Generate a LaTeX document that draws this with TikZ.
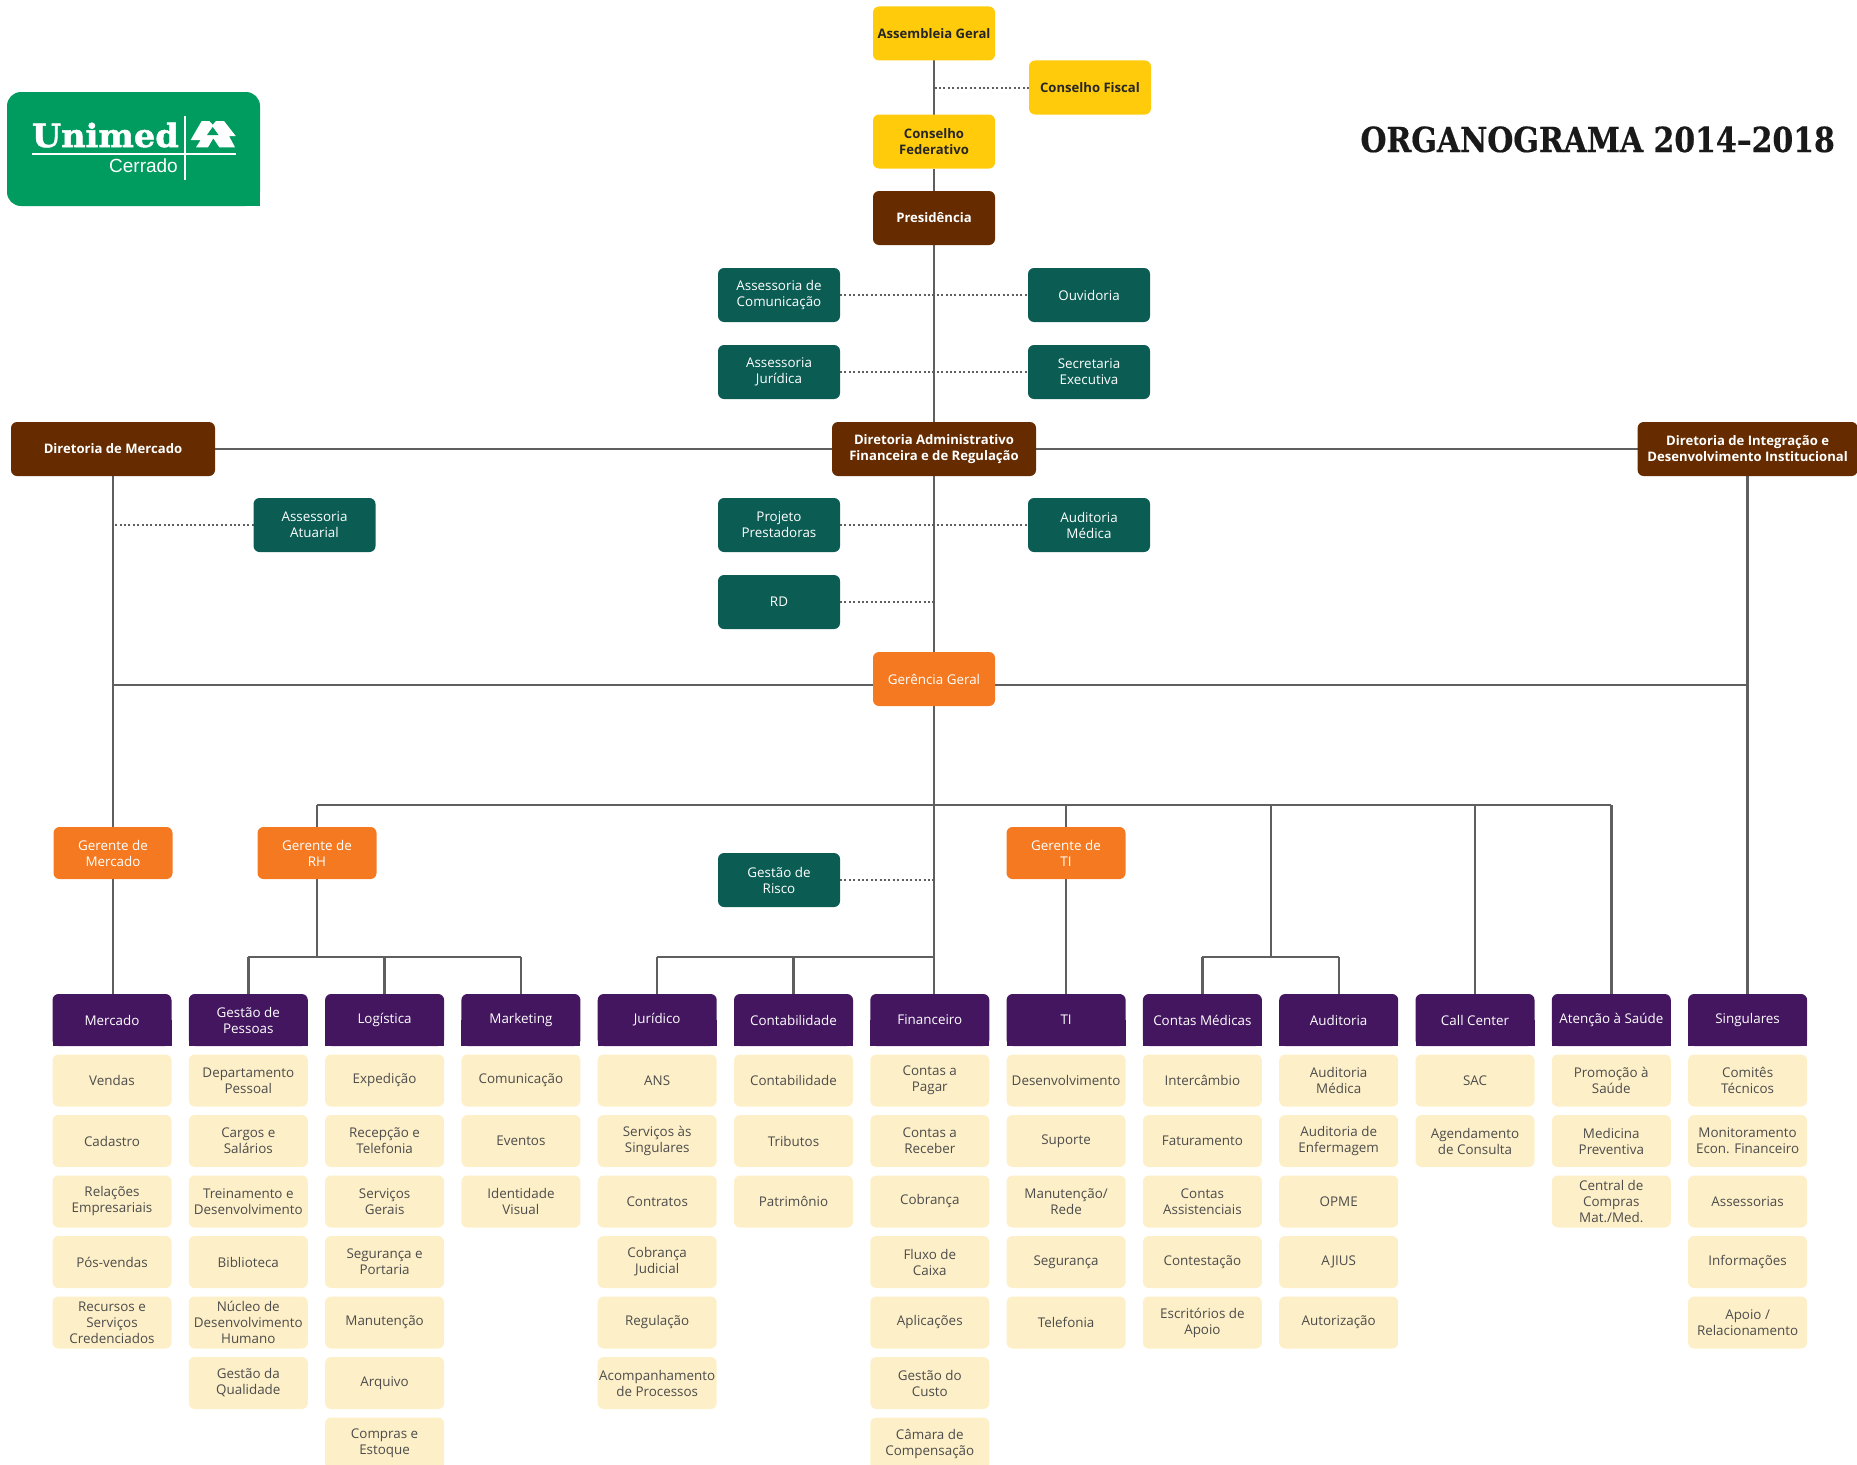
\documentclass[tikz,border=0pt]{standalone}
\usepackage{fontspec}
\usepackage{xcolor}
\setmainfont{Open Sans}
\newfontfamily\titlefont[FakeStretch=0.866,FakeBold=0.5]{DejaVu Serif Bold}
\newfontfamily\logofont[FakeStretch=1.05,FakeBold=1.6]{DejaVu Serif Bold}
\newfontfamily\cerradofont{Liberation Sans}
\usetikzlibrary{backgrounds}
\definecolor{amar}{HTML}{FFCB0B}
\definecolor{marrom}{HTML}{662C00}
\definecolor{verde}{HTML}{0B5D54}
\definecolor{laranja}{HTML}{F47920}
\definecolor{roxo}{HTML}{43165F}
\definecolor{creme}{HTML}{FDEFC7}
\definecolor{linha}{HTML}{5F5F5F}
\definecolor{logoverde}{HTML}{009B5E}
\tikzset{
	caixa/.style={align=center,inner sep=0pt,outer sep=0pt,rounded corners=6pt,font=\fontsize{13.4}{16}\selectfont},
	amarbox/.style={caixa,fill=amar,text=black!85,minimum width=122pt,minimum height=54pt,font=\fontsize{13.1}{16}\selectfont\bfseries},
	dirbox/.style={caixa,fill=marrom,text=white,minimum width=204pt,minimum height=54pt,font=\fontsize{13.1}{16}\selectfont\bfseries},
	verdebox/.style={caixa,fill=verde,text=white,minimum width=122pt,minimum height=54pt},
	larbox/.style={caixa,fill=laranja,text=white,minimum width=119pt,minimum height=52pt},
	hdrbox/.style={caixa,fill=roxo,text=white,minimum width=119pt,minimum height=52pt},
	itembox/.style={caixa,fill=creme,text=black!70,minimum width=119pt,minimum height=52pt},
	liga/.style={draw=linha,line width=2.4pt},
	pontos/.style={draw=linha,line width=2pt,dash pattern=on 2pt off 2.4pt}
}
\begin{document}
\begin{tikzpicture}[x=1pt,y=-1pt]
		\useasboundingbox (0,0) rectangle (1857,1464);
		\node[amarbox] (AG) at (934,33.5) {Assembleia Geral};
		\node[amarbox] (CF) at (1090,87.5) {Conselho Fiscal};
		\node[amarbox] (CFed) at (934,141.5) {Conselho\\Federativo};
		\node[dirbox,minimum width=122pt] (Pres) at (934,218) {Presidência};
		\node[verdebox] (ACom) at (779,295) {Assessoria de\\Comunicação};
		\node[verdebox] (Ouv) at (1089,295) {Ouvidoria};
		\node[verdebox] (AJur) at (779,372) {Assessoria\\Jurídica};
		\node[verdebox] (Sec) at (1089,372) {Secretaria\\Executiva};
		\node[dirbox] (DM) at (113,449) {Diretoria de Mercado};
		\node[dirbox] (DA) at (934,449) {Diretoria Administrativo\\Financeira e de Regulação};
		\node[dirbox,minimum width=220pt] (DI) at (1747.6,449) {Diretoria de Integração e\\Desenvolvimento Institucional};
		\node[verdebox] (AAt) at (314.5,525) {Assessoria\\Atuarial};
		\node[verdebox] (PP) at (779,525) {Projeto\\Prestadoras};
		\node[verdebox] (AM) at (1089,525) {Auditoria\\Médica};
		\node[verdebox] (RD) at (779,602) {RD};
		\node[larbox,minimum width=122pt,minimum height=54pt] (GG) at (934,679) {Gerência Geral};
		\node[larbox] (GM) at (113,853) {Gerente de\\Mercado};
		\node[larbox] (GR) at (317,853) {Gerente de\\RH};
		\node[larbox] (GT) at (1066,853) {Gerente de\\TI};
		\node[verdebox] (GRi) at (779,880) {Gestão de\\Risco};
		%
		\node[hdrbox] (H1) at (112,1020) {Mercado};
		\node[hdrbox] (H2) at (248.3,1020) {Gestão de\\Pessoas};
		\node[hdrbox] (H3) at (384.6,1020) {Logística};
		\node[hdrbox] (H4) at (520.9,1020) {Marketing};
		\node[hdrbox] (H5) at (657.2,1020) {Jurídico};
		\node[hdrbox] (H6) at (793.5,1020) {Contabilidade};
		\node[hdrbox] (H7) at (929.8,1020) {Financeiro};
		\node[hdrbox] (H8) at (1066.1,1020) {TI};
		\node[hdrbox] (H9) at (1202.4,1020) {Contas Médicas};
		\node[hdrbox] (H10) at (1338.7,1020) {Auditoria};
		\node[hdrbox] (H11) at (1475,1020) {Call Center};
		\node[hdrbox] (H12) at (1611.3,1020) {Atenção à Saúde};
		\node[hdrbox] (H13) at (1747.6,1020) {Singulares};
		%
		\node[itembox] (M1) at (112,1080.5) {Vendas};
		\node[itembox] (M2) at (112,1141) {Cadastro};
		\node[itembox] (M3) at (112,1201.5) {Relações\\Empresariais};
		\node[itembox] (M4) at (112,1262) {Pós-vendas};
		\node[itembox] (M5) at (112,1322.5) {Recursos e\\Serviços\\Credenciados};
		%
		\node[itembox] (P1) at (248.3,1080.5) {Departamento\\Pessoal};
		\node[itembox] (P2) at (248.3,1141) {Cargos e\\Salários};
		\node[itembox] (P3) at (248.3,1201.5) {Treinamento e\\Desenvolvimento};
		\node[itembox] (P4) at (248.3,1262) {Biblioteca};
		\node[itembox] (P5) at (248.3,1322.5) {Núcleo de\\Desenvolvimento\\Humano};
		\node[itembox] (P6) at (248.3,1383) {Gestão da\\Qualidade};
		%
		\node[itembox] (L1) at (384.6,1080.5) {Expedição};
		\node[itembox] (L2) at (384.6,1141) {Recepção e\\Telefonia};
		\node[itembox] (L3) at (384.6,1201.5) {Serviços\\Gerais};
		\node[itembox] (L4) at (384.6,1262) {Segurança e\\Portaria};
		\node[itembox] (L5) at (384.6,1322.5) {Manutenção};
		\node[itembox] (L6) at (384.6,1383) {Arquivo};
		\node[itembox] (L7) at (384.6,1443.5) {Compras e\\Estoque};
		%
		\node[itembox] (K1) at (520.9,1080.5) {Comunicação};
		\node[itembox] (K2) at (520.9,1141) {Eventos};
		\node[itembox] (K3) at (520.9,1201.5) {Identidade\\Visual};
		%
		\node[itembox] (J1) at (657.2,1080.5) {ANS};
		\node[itembox] (J2) at (657.2,1141) {Serviços às\\Singulares};
		\node[itembox] (J3) at (657.2,1201.5) {Contratos};
		\node[itembox] (J4) at (657.2,1262) {Cobrança\\Judicial};
		\node[itembox] (J5) at (657.2,1322.5) {Regulação};
		\node[itembox] (J6) at (657.2,1383) {Acompanhamento\\de Processos};
		%
		\node[itembox] (C1) at (793.5,1080.5) {Contabilidade};
		\node[itembox] (C2) at (793.5,1141) {Tributos};
		\node[itembox] (C3) at (793.5,1201.5) {Patrimônio};
		%
		\node[itembox] (F1) at (929.8,1080.5) {Contas a\\Pagar};
		\node[itembox] (F2) at (929.8,1141) {Contas a\\Receber};
		\node[itembox] (F3) at (929.8,1201.5) {Cobrança};
		\node[itembox] (F4) at (929.8,1262) {Fluxo de\\Caixa};
		\node[itembox] (F5) at (929.8,1322.5) {Aplicações};
		\node[itembox] (F6) at (929.8,1383) {Gestão do\\Custo};
		\node[itembox] (F7) at (929.8,1443.5) {Câmara de\\Compensação};
		%
		\node[itembox] (T1) at (1066.1,1080.5) {Desenvolvimento};
		\node[itembox] (T2) at (1066.1,1141) {Suporte};
		\node[itembox] (T3) at (1066.1,1201.5) {Manutenção/\\Rede};
		\node[itembox] (T4) at (1066.1,1262) {Segurança};
		\node[itembox] (T5) at (1066.1,1322.5) {Telefonia};
		%
		\node[itembox] (O1) at (1202.4,1080.5) {Intercâmbio};
		\node[itembox] (O2) at (1202.4,1141) {Faturamento};
		\node[itembox] (O3) at (1202.4,1201.5) {Contas\\Assistenciais};
		\node[itembox] (O4) at (1202.4,1262) {Contestação};
		\node[itembox] (O5) at (1202.4,1322.5) {Escritórios de\\Apoio};
		%
		\node[itembox] (U1) at (1338.7,1080.5) {Auditoria\\Médica};
		\node[itembox] (U2) at (1338.7,1141) {Auditoria de\\Enfermagem};
		\node[itembox] (U3) at (1338.7,1201.5) {OPME};
		\node[itembox] (U4) at (1338.7,1262) {AJIUS};
		\node[itembox] (U5) at (1338.7,1322.5) {Autorização};
		%
		\node[itembox] (S1) at (1475,1080.5) {SAC};
		\node[itembox] (S2) at (1475,1141) {Agendamento\\de Consulta};
		%
		\node[itembox] (A1) at (1611.3,1080.5) {Promoção à\\Saúde};
		\node[itembox] (A2) at (1611.3,1141) {Medicina\\Preventiva};
		\node[itembox] (A3) at (1611.3,1201.5) {Central de\\Compras\\Mat./Med.};
		%
		\node[itembox] (Z1) at (1747.6,1080.5) {Comitês\\Técnicos};
		\node[itembox] (Z2) at (1747.6,1141) {Monitoramento\\Econ. Financeiro};
		\node[itembox] (Z3) at (1747.6,1201.5) {Assessorias};
		\node[itembox] (Z4) at (1747.6,1262) {Informações};
		\node[itembox] (Z5) at (1747.6,1322.5) {Apoio /\\Relacionamento};
		%
		\coordinate (GEsq) at (113,685);
		\coordinate (GDir) at (1747.6,685);
		\coordinate (TopRH) at (317,805);
		\coordinate (TopCM) at (1271,805);
		\coordinate (TopCC) at (1475,805);
		\coordinate (TopAS) at (1611.3,805);
		\coordinate (MidCM) at (1271,957);
		\coordinate (MidRH) at (317,957);
		\coordinate (MidF) at (934,957);
		%
		\begin{scope}[on background layer]
		\foreach \h in {H1,H2,H3,H4,H5,H6,H7,H8,H9,H10,H11,H12,H13}
			\fill[roxo] (\h.west) rectangle (\h.south east);
		\path[liga]
			(AG) edge (CFed)
			(CFed) edge (Pres)
			(Pres) edge (DA)
			(DA) edge (GG)
			(GG) edge (GG |- H7.north)
			(DM) edge (DA)
			(DA) edge (DI)
			(DM) edge (GM)
			(GM) edge (GM |- H1.north)
			(DI) edge (H13)
			(GEsq) edge (GDir)
			(TopRH) edge (TopAS)
			(TopRH) edge (GR)
			(GR) edge (MidRH)
			(H2 |- MidRH) edge (H4 |- MidRH)
			(H2 |- MidRH) edge (H2)
			(H3 |- MidRH) edge (H3)
			(H4 |- MidRH) edge (H4)
			(H5 |- MidF) edge (MidF)
			(H5 |- MidF) edge (H5)
			(H6 |- MidF) edge (H6)
			(GT |- TopRH) edge (GT)
			(GT) edge (GT |- H8.north)
			(TopCM) edge (MidCM)
			(H9 |- MidCM) edge (H10 |- MidCM)
			(H9 |- MidCM) edge (H9)
			(H10 |- MidCM) edge (H10)
			(TopCC) edge (H11)
			(TopAS) edge (H12);
		\path[pontos]
			(CF) edge (CF -| AG)
			(ACom) edge (Ouv)
			(AJur) edge (Sec)
			(PP) edge (AM)
			(RD) edge (RD -| Pres)
			(AAt) edge (AAt -| DM)
			(GRi) edge (GRi -| GG);
		\end{scope}
		%
		\fill[logoverde,rounded corners=14pt] (7,92) rectangle (260,206);
		\fill[logoverde] (200,150) rectangle (260,206);
		\node[text=white,inner sep=0pt,anchor=base east,font=\logofont\fontsize{32}{32}\selectfont] (Uni) at (179,147) {Unimed};
		\node[text=white,inner sep=0pt,anchor=base east,font=\cerradofont\fontsize{19}{19}\selectfont] (Cer) at (178,172) {Cerrado};
		\draw[white,line width=1.3pt] (32,154) -- (236,154) (185,116) -- (185,180);
		\fill[white] (201.7,121) -- (224,121) -- (235.7,136) -- (229,136) -- (235,147.3) -- (219.3,147.3) -- (213.3,138.3) -- (208,147.3) -- (196,147.3) -- (200.7,140) -- (190.7,140) -- cycle;
		\fill[logoverde] (209.5,121) -- (212.7,124.5) -- (215.8,121) -- cycle;
		\fill[logoverde] (212.7,127) -- (218.5,135) -- (207,135) -- cycle;
		\node[text=black!90,inner sep=0pt,anchor=base east,font=\titlefont\fontsize{34.5}{34.5}\selectfont] (Tit) at (1835,152) {ORGANOGRAMA 2014–2018};
	\end{tikzpicture}
\end{document}
